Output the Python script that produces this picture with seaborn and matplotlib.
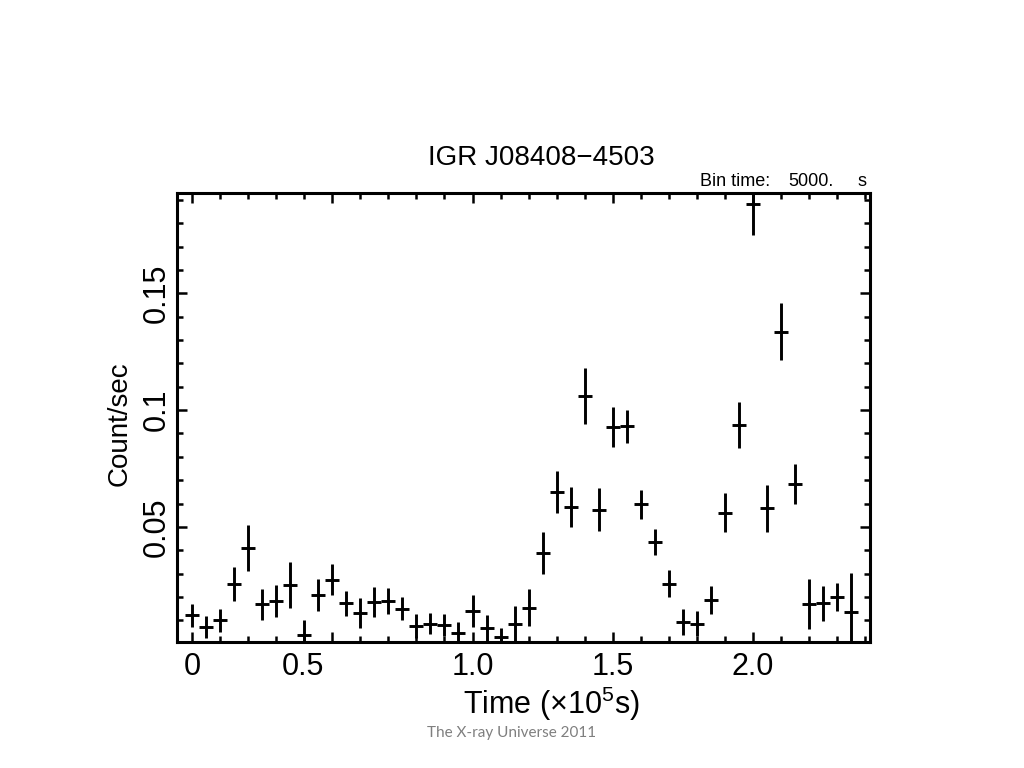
#!/usr/bin/env python3
# Light curve of IGR J08408-4503, redrawn as a seaborn/matplotlib figure

import matplotlib
matplotlib.use("Agg")

import pandas as pd
import seaborn as sns
from matplotlib import pyplot as plt
from matplotlib import ticker as plticker
from matplotlib import transforms as mtransforms
from matplotlib import font_manager

# -------------------------------------------------------------------
# DATA (time in units of 1e5 s)
# -------------------------------------------------------------------

time_1e5s = [
    0.00, 0.05, 0.10, 0.15, 0.20, 0.25, 0.30, 0.35, 0.40, 0.45,
    0.50, 0.55, 0.60, 0.65, 0.70, 0.75, 0.80, 0.85, 0.90, 0.95,
    1.00, 1.05, 1.10, 1.15, 1.20, 1.25, 1.30, 1.35, 1.40, 1.45,
    1.50, 1.55, 1.60, 1.65, 1.70, 1.75, 1.80, 1.85, 1.90, 1.95,
    2.00, 2.05, 2.10, 2.15, 2.20, 2.25, 2.30, 2.35,
]
count_rate = [
    0.0121, 0.0072, 0.0100, 0.0257, 0.0410, 0.0169, 0.0183, 0.0250,
    0.0036, 0.0207, 0.0274, 0.0172, 0.0131, 0.0179, 0.0183, 0.0150,
    0.0076, 0.0086, 0.0079, 0.0046, 0.0140, 0.0065, 0.0030, 0.0086,
    0.0154, 0.0389, 0.0650, 0.0586, 0.1060, 0.0574, 0.0928, 0.0931,
    0.0597, 0.0436, 0.0257, 0.0093, 0.0086, 0.0186, 0.0560, 0.0936,
    0.1885, 0.0579, 0.1336, 0.0682, 0.0169, 0.0172, 0.0200, 0.0136,
]
count_err = [
    0.0049, 0.0048, 0.0050, 0.0073, 0.0100, 0.0066, 0.0069, 0.0098,
    0.0067, 0.0068, 0.0066, 0.0054, 0.0066, 0.0064, 0.0056, 0.0051,
    0.0052, 0.0046, 0.0046, 0.0046, 0.0070, 0.0057, 0.0035, 0.0076,
    0.0079, 0.0091, 0.0091, 0.0086, 0.0119, 0.0091, 0.0084, 0.0071,
    0.0063, 0.0057, 0.0059, 0.0055, 0.0054, 0.0060, 0.0083, 0.0100,
    0.0136, 0.0100, 0.0121, 0.0086, 0.0107, 0.0076, 0.0061, 0.0167,
]
half_bin = 0.025  # 5000 s bins -> +/- 2500 s

x_tick_values = [0.0, 0.5, 1.0, 1.5, 2.0]
x_tick_labels = ["0", "0.5", "1.0", "1.5", "2.0"]
y_tick_values = [0.05, 0.10, 0.15]
y_tick_labels = ["0.05", "0.1", "0.15"]

# -------------------------------------------------------------------
# STYLE
# -------------------------------------------------------------------

sns.set_theme(style="ticks")
plt.rcParams["font.family"] = ["Liberation Sans", "DejaVu Sans"]
plt.rcParams["mathtext.fontset"] = "custom"
plt.rcParams["mathtext.rm"] = "Liberation Sans"
plt.rcParams["mathtext.it"] = "Liberation Sans"

installed = {f.name for f in font_manager.fontManager.ttflist}
narrow = ("Liberation Sans Narrow" if "Liberation Sans Narrow" in installed
          else "Liberation Sans")

df = pd.DataFrame({"time": time_1e5s, "rate": count_rate, "err": count_err})

fig = plt.figure(figsize=(10.24, 7.68), dpi=100)
ax = fig.add_axes([0.1729, 0.1641, 0.6768, 0.5846])

ax.errorbar(
    df["time"], df["rate"], xerr=half_bin, yerr=df["err"],
    fmt="none", ecolor="black", elinewidth=2.1, capsize=0,
)

ax.set_xlim(-0.053, 2.417)
ax.set_ylim(0.0007, 0.193)

ax.xaxis.set_major_locator(plticker.FixedLocator(x_tick_values))
ax.xaxis.set_major_formatter(plticker.FixedFormatter(x_tick_labels))
ax.xaxis.set_minor_locator(plticker.MultipleLocator(0.1))
ax.yaxis.set_major_locator(plticker.FixedLocator(y_tick_values))
ax.yaxis.set_major_formatter(plticker.FixedFormatter(y_tick_labels))
ax.yaxis.set_minor_locator(plticker.MultipleLocator(0.01))

ax.tick_params(which="both", direction="in", top=True, right=True,
               color="black", width=1.8)
ax.tick_params(which="major", length=7)
ax.tick_params(which="minor", length=4)
ax.tick_params(axis="x", labelsize=22, pad=7, labelcolor="black")
ax.tick_params(axis="y", labelsize=22, pad=4, labelrotation=90,
               labelcolor="black")
for lab in ax.get_yticklabels():
    lab.set_family(narrow)
    lab.set_va("center")

for side in ("left", "right", "top", "bottom"):
    ax.spines[side].set_linewidth(2.2)
    ax.spines[side].set_color("black")

ax.set_ylabel("Count/sec", fontsize=20, family=narrow, color="black")
ax.yaxis.set_label_coords(-0.064, 0.486)
ax.set_xlabel("Time (\u00d710$^{5}$s)", fontsize=22, color="black",
              va="top")
ax.xaxis.set_label_coords(0.54, -0.095)

# the "0.5" label sits a bit left of its tick in the original slide
tick05 = ax.xaxis.get_major_ticks()[1]
tick05.label1.set_transform(
    tick05.label1.get_transform()
    + mtransforms.ScaledTranslation(-0.29, 0, fig.dpi_scale_trans)
)

# titles and annotations
fig.text(541 / 1024, 1 - 165 / 768, "IGR J08408\u22124503",
         ha="center", va="baseline", fontsize=20, color="black")
fig.text(700 / 1024, 1 - 186 / 768, "Bin time:", ha="left",
         va="baseline", fontsize=13, color="black")
fig.text(788 / 1024, 1 - 186 / 768, "5000.", ha="left",
         va="baseline", fontsize=13, color="black")
fig.text(867 / 1024, 1 - 186 / 768, "s", ha="right",
         va="baseline", fontsize=13, color="black")
fig.text(512 / 1024, 1 - 733 / 768, "The X-ray Universe 2011",
         ha="center", va="center", fontsize=11, color="#7f7f7f",
         family=["Lato", "DejaVu Sans"])

fig.savefig("out.png", dpi=100)
